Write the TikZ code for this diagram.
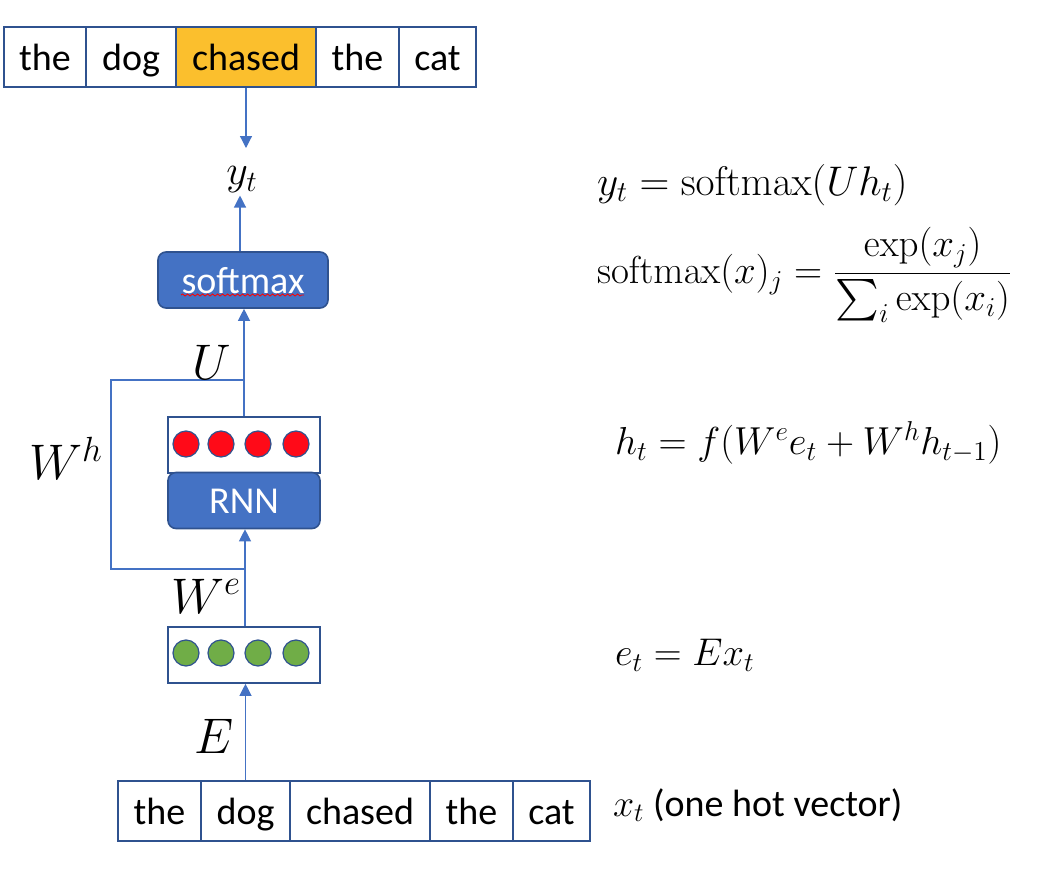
\documentclass[tikz,border=0pt]{standalone}
\usepackage{fix-cm}
\usepackage{amsmath}
\usepackage[no-math]{fontspec}
\setmainfont{Carlito}
\usetikzlibrary{arrows.meta, positioning, calc, decorations.pathmorphing}
\definecolor{lnblue}{HTML}{4472C4}
\definecolor{bdblue}{HTML}{2F528F}
\definecolor{hlorange}{HTML}{FBBF2D}
\definecolor{hidred}{HTML}{FF0A18}
\definecolor{embgreen}{HTML}{70AD47}

\tikzset{
  wordcell/.style={draw=bdblue, line width=0.8pt, inner sep=0pt,
    minimum height=30pt, text height=14pt, text depth=1pt,
    font=\fontsize{19}{22}\selectfont},
  vecbox/.style={draw=bdblue, line width=0.8pt, fill=white, inner sep=0pt,
    minimum width=76pt, minimum height=28pt},
  layerbox/.style={draw=bdblue, line width=0.8pt, fill=lnblue, rounded corners=4pt,
    inner sep=0pt, minimum height=28pt, text height=14pt, text depth=1pt,
    text=white, font=\fontsize{19}{22}\selectfont},
  unit/.style={circle, draw=bdblue, line width=0.6pt, inner sep=0pt, minimum size=13pt},
  flow/.style={lnblue, line width=0.6pt, -{Triangle[length=6pt, width=6pt]}},
  loop/.style={lnblue, line width=0.6pt},
  wlabel/.style={font=\fontsize{25}{28}\selectfont},
  eqn/.style={anchor=west, font=\fontsize{19.5}{24}\selectfont}
}

\begin{document}
\begin{tikzpicture}[x=0.5pt, y=-0.5pt]

% Canvas (pixel grid, y grows downwards)
\useasboundingbox (0,0) rectangle (1057,879);

% Output words
\node[wordcell, minimum width=41pt] (ot1) at (45,57) {the};
\node[wordcell, minimum width=45pt] (ot2) at (131,57) {dog};
\node[wordcell, minimum width=70pt, fill=hlorange] (ot3) at (246,57) {chased};
\node[wordcell, minimum width=41.5pt] (ot4) at (357.5,57) {the};
\node[wordcell, minimum width=38.5pt] (ot5) at (437.5,57) {cat};

% Output symbol
\node[font=\fontsize{21}{24}\selectfont, inner sep=1pt] (yt) at (242,180) {$y_t$};

% Softmax layer
\node[layerbox, minimum width=85pt] (smax) at (243,280) {softmax};
\draw[red, line width=0.4pt, decorate,
  decoration={snake, amplitude=0.5pt, segment length=2.5pt}]
  (181,295) -- (304,295);

% Hidden state and RNN cell
\node[vecbox] (hid) at (244,445) {};
\node[layerbox, minimum width=76pt] (rnn) at (244,500.5) {RNN};
\foreach \cx [count=\i] in {186,221,258,296}
  \node[unit, fill=hidred] (h\i) at (\cx,444) {};

% Embedding
\node[vecbox] (emb) at (244,655) {};
\foreach \cx [count=\i] in {186,221,258,296}
  \node[unit, fill=embgreen] (e\i) at (\cx,653) {};

% Input words
\node[wordcell, minimum width=41.5pt] (in1) at (159.5,811) {the};
\node[wordcell, minimum width=44.5pt] (in2) at (245.5,811) {dog};
\node[wordcell, minimum width=70pt] (in3) at (360,811) {chased};
\node[wordcell, minimum width=41.5pt] (in4) at (471.5,811) {the};
\node[wordcell, minimum width=38.5pt] (in5) at (551.5,811) {cat};

% Recurrent loop corners
\coordinate (ujoin) at (244,380);
\coordinate (loopTL) at (111,380);
\coordinate (loopBL) at (111,569);
\coordinate (wjoin) at (245,569);

% Connectors
\draw[flow] (ot3.south) -- (246,148);
\draw[flow] (smax.north -| 240,0) -- (yt.south -| 240,0);
\draw[flow] (hid.north) -- (smax.south -| hid.north);
\draw[loop] (ujoin) -- (loopTL) -- (loopBL) -- (wjoin);
\draw[flow] (emb.north -| wjoin) -- (rnn.south -| wjoin);
\draw[flow] (in2.north) -- (emb.south -| in2.north);

% Weight labels
\node[wlabel] (lU) at (212,362) {$U$};
\node[wlabel] (lWh) at (66,458) {$W^h$};
\node[wlabel] (lWe) at (206,596) {$W^e$};
\node[wlabel] (lE) at (214,736) {$E$};

% Equations
\node[eqn, font=\fontsize{20.7}{25}\selectfont] (eqy) at (590,185) {$y_t = \mathrm{softmax}(Uh_t)$};
\node[eqn] (eqs) at (590,275) {$\mathrm{softmax}(x)_j = \dfrac{\exp(x_j)}{\sum_i \exp(x_i)}$};
\node[eqn] (eqh) at (608,443) {$h_t = f(W^e e_t + W^h h_{t-1})$};
\node[eqn, font=\fontsize{19.3}{24}\selectfont] (eqe) at (608,655) {$e_t = E x_t$};
\node[eqn, font=\fontsize{19}{23}\selectfont] (eqx) at (606,805) {$x_t$ (one hot vector)};

\end{tikzpicture}
\end{document}
